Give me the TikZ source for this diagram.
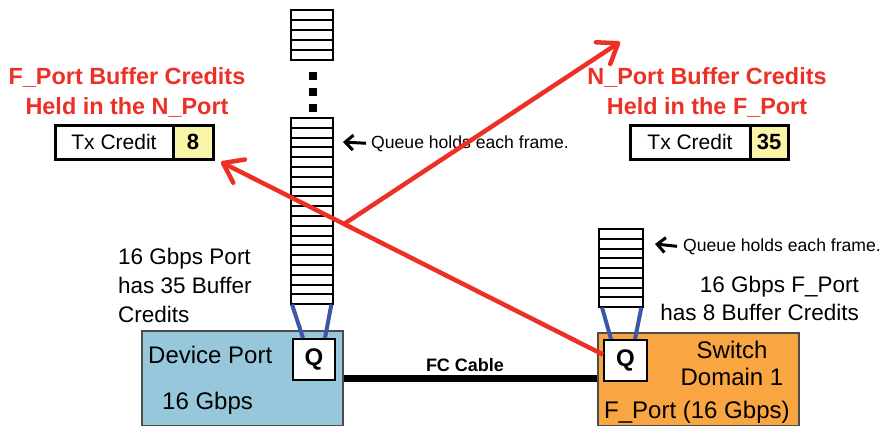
\documentclass[tikz,border=0pt]{standalone}
\usepackage{fontspec}
\setmainfont{Liberation Sans}
\usetikzlibrary{arrows.meta, positioning, calc}

\definecolor{devblue}{RGB}{150,199,219}
\definecolor{sworange}{RGB}{248,165,66}
\definecolor{credred}{RGB}{236,48,38}
\definecolor{linkblue}{RGB}{60,86,168}
\definecolor{credyel}{RGB}{250,246,168}

\begin{document}
\begin{tikzpicture}[
  x=1pt, y=-1pt,
  >=Latex,
  slot/.style={draw=black, line width=2pt, fill=white},
  portbox/.style={draw=black!70, line width=1.5pt, anchor=north west,
                  minimum width=201pt, inner sep=0pt},
  qbox/.style={draw=black, line width=2pt, fill=white, anchor=north west,
               minimum width=42pt, minimum height=41pt, inner sep=0pt,
               font=\fontsize{24}{24}\selectfont\bfseries},
  txbox/.style={draw=black, line width=3pt, fill=white, anchor=north west,
                minimum height=34pt, inner sep=0pt, outer sep=0pt,
                font=\fontsize{21}{21}\selectfont},
  txval/.style={txbox, fill=credyel, font=\fontsize{22}{22}\selectfont\bfseries},
  credtitle/.style={anchor=base, align=center, inner sep=0pt, text=credred,
                    font=\fontsize{23.4}{30}\selectfont\bfseries},
  info/.style={inner sep=0pt, font=\fontsize{22.5}{29}\selectfont},
  portlabel/.style={anchor=base west, inner sep=0pt,
                    font=\fontsize{24}{27}\selectfont},
  qnote/.style={anchor=base west, inner sep=0pt,
                font=\fontsize{17.6}{20}\selectfont},
  qarrow/.style={-{Straight Barb[length=8pt,width=15pt]}, line width=3pt},
  link/.style={draw=linkblue, line width=4pt},
  cable/.style={line width=7pt},
  credarrow/.style={-{Straight Barb[length=18pt,width=26pt,round]},
                    line width=4.5pt, draw=credred}
]
\useasboundingbox (0,0) rectangle (882,425);

%% -- Ports -------------------------------------------------------
\node[portbox, fill=devblue, minimum height=95pt] (dev) at (141,330) {};
\node[portbox, fill=sworange, minimum height=93pt] (sw) at (597,332) {};

\node[portlabel] (devname) at (148,363) {Device Port};
\node[portlabel] (devspeed) at (162,409) {16 Gbps};
\node[portlabel, anchor=base, align=center] (swname) at (732,385)
  {Switch\\Domain 1};
\node[portlabel] (swport) at (604,418) {F\_Port (16 Gbps)};

\node[qbox] (qM) at (292,338) {Q};
\node[qbox, minimum width=43pt] (qR) at (603,339) {Q};

%% -- Queues ------------------------------------------------------
\node[anchor=north west, inner sep=0pt, minimum width=42pt,
  minimum height=186pt] (queueM) at (291,118) {};
\node[anchor=north west, inner sep=0pt, minimum width=44pt,
  minimum height=78pt] (queueR) at (599,229) {};

\foreach \k in {0,...,4}
  \draw[slot] (291,{10+\k*10}) rectangle ++(42,10);
\foreach \yy in {76,92,108}
  \fill (309,{\yy-4}) rectangle ++(8,8);
\foreach \k in {0,...,18}
  \draw[slot] (291,{118+\k*9.8}) rectangle ++(42,9.8);
\foreach \k in {0,...,7}
  \draw[slot] (599,{229+\k*9.75}) rectangle ++(44,9.75);

\draw[link] ([xshift=1pt]queueM.south west) -- ([xshift=11pt]qM.north west);
\draw[link] ([xshift=-2pt]queueM.south east) -- ([xshift=-11pt]qM.north east);
\draw[link] ([xshift=3pt]queueR.south west) -- ([xshift=8pt]qR.north west);
\draw[link] ([xshift=-2pt]queueR.south east) -- ([xshift=-13pt]qR.north east);

%% -- Notes -------------------------------------------------------
\node[qnote] (qtextM) at (371,148) {Queue holds each frame.};
\node[qnote] (qtextR) at (683,251) {Queue holds each frame.};
\coordinate (qtipM) at (343,142);
\coordinate (qtipR) at (655,244);
\draw[qarrow] ([xshift=-5pt]qtextM.west) -- (qtipM);
\draw[qarrow] ([xshift=-6pt]qtextR.west) -- (qtipR);

\node[info, anchor=base west, align=left] (portinfo) at (118,322)
  {16 Gbps Port\\has 35 Buffer\\Credits};
\node[info, anchor=base east, align=right,
  font=\fontsize{22.5}{27.5}\selectfont] (swinfo) at (859,320)
  {16 Gbps F\_Port\\has 8 Buffer Credits};

%% -- Credits -----------------------------------------------------
\node[credtitle] (titleL) at (127,114) {F\_Port Buffer Credits\\Held in the N\_Port};
\node[credtitle] (titleR) at (707,114) {N\_Port Buffer Credits\\Held in the F\_Port};

\node[txbox, minimum width=118pt] (txL) at (55,125) {Tx Credit};
\node[txval, minimum width=40pt, right=0pt of txL] (txLval) {8};
\node[txbox, minimum width=120pt] (txR) at (630,125) {Tx Credit};
\node[txval, minimum width=38pt, right=0pt of txR] (txRval) {35};

%% -- Cable -------------------------------------------------------
\draw[cable] (dev.east) -- (dev.east -| sw.west);
\node[anchor=base, inner sep=0pt, font=\fontsize{18}{18}\selectfont\bfseries]
  (fclabel) at (465,371) {FC Cable};

%% -- Red arrows --------------------------------------------------
\coordinate (credtipL) at (221,162);
\coordinate (credtipR) at (620,42);
\path ([yshift=6pt]qR.west) -- (credtipL) coordinate[pos=0.678] (credcross);
\draw[credarrow] ([yshift=6pt]qR.west) -- (credtipL);
\draw[credarrow] (credcross) -- (credtipR);

\end{tikzpicture}
\end{document}
